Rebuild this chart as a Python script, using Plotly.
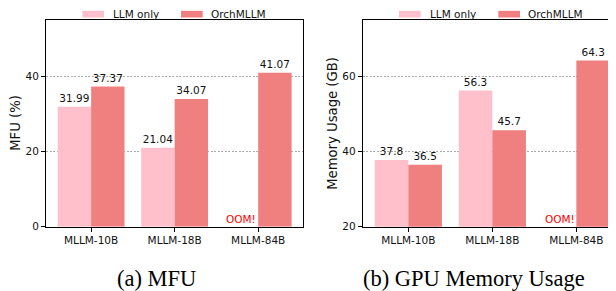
import plotly.graph_objects as go

categories = ["MLLM-10B", "MLLM-18B", "MLLM-84B"]
series_names = ["LLM only", "OrchMLLM"]
mfu_llm_only = [31.99, 21.04, None]
mfu_orch = [37.37, 34.07, 41.07]
mem_llm_only = [37.8, 56.3, None]
mem_orch = [36.5, 45.7, 64.3]
mfu_ticks = [0, 20, 40]
mem_ticks = [20, 40, 60]
colors = ["#FFC0CB", "#F08080"]

# the page body has an 8px default margin; lay out in window pixels and convert
OFF = 8
W, H = 616 - OFF, 291 - OFF
FONT = "DejaVu Sans"
FS = 10.5

def px(x):
    return (x - OFF) / W

def py(y):
    return 1 - (y - OFF) / H

fig = go.Figure()
xs = list(range(len(categories)))

def add_bars(vals_a, vals_b, xa, ya):
    for name, vals, col in [(series_names[0], vals_a, colors[0]), (series_names[1], vals_b, colors[1])]:
        fig.add_trace(go.Bar(
            x=xs, y=vals, name=name, marker=dict(color=col, line=dict(width=0)),
            text=[("" if v is None else str(v)) for v in vals],
            textposition="outside", cliponaxis=False,
            textfont=dict(family=FONT, size=FS, color="#111"),
            xaxis=xa, yaxis=ya, showlegend=False,
        ))

add_bars(mfu_llm_only, mfu_orch, "x", "y")
add_bars(mem_llm_only, mem_orch, "x2", "y2")

ydom = [py(226.7), py(20)]
axis_common = dict(showline=True, linecolor="black", linewidth=1, ticks="outside", automargin=False,
                   ticklen=4, tickcolor="black", tickfont=dict(family=FONT, size=FS, color="#111"))
grid = dict(showgrid=True, gridcolor="#aaaaaa", griddash="2px,1.5px", gridwidth=0.8)

fig.update_layout(
    width=W, height=H, margin=dict(l=0, r=0, t=0, b=0, autoexpand=False),
    paper_bgcolor="white", plot_bgcolor="white",
    barmode="group", bargap=0.2, bargroupgap=0,
    font=dict(family=FONT, size=FS, color="#111"),
    xaxis=dict(domain=[px(46), px(303.3)], range=[-0.54, 2.54], tickvals=xs, ticktext=categories,
               mirror=True, showgrid=False, zeroline=False, **axis_common),
    yaxis=dict(domain=ydom, range=[0, 55.1], tickvals=mfu_ticks, mirror=True,
               zeroline=False, anchor="x", **grid, **axis_common),
    xaxis2=dict(domain=[px(362.7), 1.0], range=[-0.543, 2.472], tickvals=xs, ticktext=categories,
                mirror=True, showgrid=False, zeroline=False, anchor="y2", **axis_common),
    yaxis2=dict(domain=ydom, range=[20, 75.1], tickvals=mem_ticks, mirror=False,
                zeroline=False, anchor="x2", **grid, **axis_common),
)

annotations = []
shapes = []
bw = 0.4
oom_idx = categories.index("MLLM-84B")
for xa, ya, base in [("x", "y", mfu_ticks[0]), ("x2", "y2", mem_ticks[0])]:
    annotations.append(dict(x=oom_idx - bw / 2, y=base, xref=xa, yref=ya, text="OOM!",
                            showarrow=False, xanchor="center", yanchor="bottom", yshift=0,
                            font=dict(family=FONT, size=FS, color="red")))

def paper_text(x, y, text, size, family=FONT, angle=0, xanchor="center", color="#111"):
    annotations.append(dict(x=px(x), y=py(y), xref="paper", yref="paper", text=text,
                            textangle=angle, showarrow=False, xanchor=xanchor, yanchor="middle",
                            borderpad=0, font=dict(family=family, size=size, color=color)))

# axis titles
paper_text(15.5, 123.3, "MFU (%)", 13.2, angle=-90)
paper_text(332.5, 123.3, "Memory Usage (GB)", 13.2, angle=-90)

# captions
paper_text(156, 278.5, "(a) MFU", 22.5, family="Liberation Serif", color="black")
paper_text(473.5, 278.5, "(b) GPU Memory Usage", 22.5, family="Liberation Serif", color="black")

# legends
legend_pos = [
    [(82.3, 104, 112.7), (181, 202.7, 211)],
    [(399, 420.7, 429.7), (498.3, 520, 528)],
]
for group in legend_pos:
    for (x0, x1, tx), name, col in zip(group, series_names, colors):
        shapes.append(dict(type="rect", xref="paper", yref="paper", x0=px(x0), x1=px(x1),
                           y0=py(17.5), y1=py(10.8), fillcolor=col, line=dict(width=0)))
        paper_text(tx - 1, 14, name, FS, xanchor="left")

fig.update_layout(annotations=annotations, shapes=shapes)
fig.write_html("out.html")
